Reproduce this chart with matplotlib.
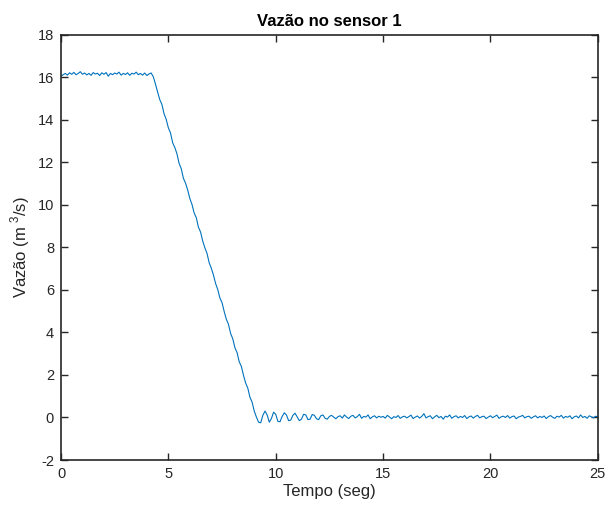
import numpy as np
import matplotlib.pyplot as plt

# sample times (s), one sample every 0.1 s
tempo = np.round(np.arange(0, 25.01, 0.1), 1)

# flow at sensor 1 (m^3/s), one row per second
vazao = [
    16.05, 16.12, 16.18, 16.10, 16.21, 16.14, 16.23, 16.12, 16.18, 16.26,
    16.14, 16.20, 16.11, 16.18, 16.09, 16.22, 16.15, 16.19, 16.08, 16.21,
    16.14, 16.22, 16.05, 16.18, 16.12, 16.20, 16.15, 16.24, 16.10, 16.18,
    16.13, 16.21, 16.09, 16.19, 16.15, 16.24, 16.12, 16.18, 16.10, 16.20,
    16.08, 16.16, 16.20, 16.02, 15.68, 15.30, 14.95, 14.72, 14.28, 14.02,
    13.62, 13.38, 12.92, 12.70, 12.40, 11.95, 11.70, 11.25, 11.02, 10.70,
    10.30, 10.02, 9.62, 9.40, 8.95, 8.72, 8.30, 7.98, 7.72, 7.28,
    7.02, 6.70, 6.30, 6.02, 5.62, 5.40, 4.98, 4.62, 4.38, 3.95,
    3.70, 3.28, 3.05, 2.62, 2.40, 1.98, 1.62, 1.38, 0.95, 0.72,
    0.30, 0.02, -0.22, -0.25, 0.10, 0.30, 0.12, -0.22, -0.05, 0.25,
    0.15, -0.18, -0.20, 0.05, 0.22, 0.12, -0.15, -0.12, 0.10, 0.20,
    0.02, -0.15, -0.08, 0.15, 0.12, -0.10, -0.08, 0.14, 0.10, -0.06,
    -0.10, 0.08, 0.12, -0.04, -0.08, 0.05, 0.10, 0.02, -0.06, 0.04,
    0.08, -0.03, 0.12, 0.02, -0.05, 0.06, 0.10, -0.02, 0.04, 0.15,
    -0.04, 0.05, 0.02, 0.12, -0.06, 0.03, 0.08, -0.02, 0.06, 0.01,
    0.05, -0.03, 0.10, 0.02, -0.06, 0.04, 0.00, 0.09, -0.04, 0.03,
    0.06, -0.02, 0.04, 0.11, -0.05, 0.02, 0.07, -0.03, 0.05, 0.18,
    -0.02, 0.04, 0.08, -0.06, 0.03, 0.10, -0.01, 0.05, -0.08, 0.06,
    0.02, 0.12, -0.04, 0.04, 0.08, -0.02, 0.05, 0.00, 0.09, -0.05,
    0.03, 0.07, -0.03, 0.05, 0.10, -0.02, 0.04, 0.06, -0.05, 0.02,
    0.08, -0.01, 0.05, 0.11, -0.04, 0.03, 0.06, 0.00, 0.09, -0.03,
    0.04, 0.07, -0.06, 0.02, 0.05, 0.10, -0.02, 0.04, 0.06, -0.04,
    0.03, 0.08, -0.02, 0.05, 0.00, 0.07, -0.05, 0.04, 0.09, 0.01,
    -0.04, 0.06, 0.02, 0.10, -0.03, 0.05, 0.01, 0.08, -0.06, 0.03,
    0.07, -0.02, 0.12, 0.00, 0.05, -0.04, 0.08, 0.03, -0.02, 0.06,
    0.02,
]

x_ticks = [0, 5, 10, 15, 20, 25]
y_ticks = [-2, 0, 2, 4, 6, 8, 10, 12, 14, 16, 18]

plt.rcParams['font.family'] = ['Liberation Sans', 'DejaVu Sans']
plt.rcParams['mathtext.fontset'] = 'custom'
plt.rcParams['mathtext.rm'] = 'Liberation Sans'
plt.rcParams['axes.unicode_minus'] = False

cor_eixo = '#262626'

fig = plt.figure(figsize=(6.1, 5.13), dpi=100)
ax = fig.add_axes([0.1, 0.1033, 0.88, 0.829])

ax.plot(tempo, vazao, color='#0072BD', lw=0.8)

ax.set_xlim(0, 25)
ax.set_ylim(-2, 18)
ax.set_xticks(x_ticks)
ax.set_yticks(y_ticks)

# matlab style box with ticks inside on every side
ax.tick_params(direction='in', length=5, width=1, top=True, right=True,
               labelsize=10.5, colors=cor_eixo, pad=5)
for s in ax.spines.values():
    s.set_color(cor_eixo)
    s.set_linewidth(1.2)

ax.set_title('Vazão no sensor 1', fontsize=12, fontweight='bold',
             color='black', pad=6)
ax.set_xlabel('Tempo (seg)', fontsize=12, color=cor_eixo, labelpad=2)
ax.set_ylabel('Vazão (m$^{\\ 3}$/s)', fontsize=12, color=cor_eixo,
              labelpad=4)

fig.savefig('out.png', dpi=100)
